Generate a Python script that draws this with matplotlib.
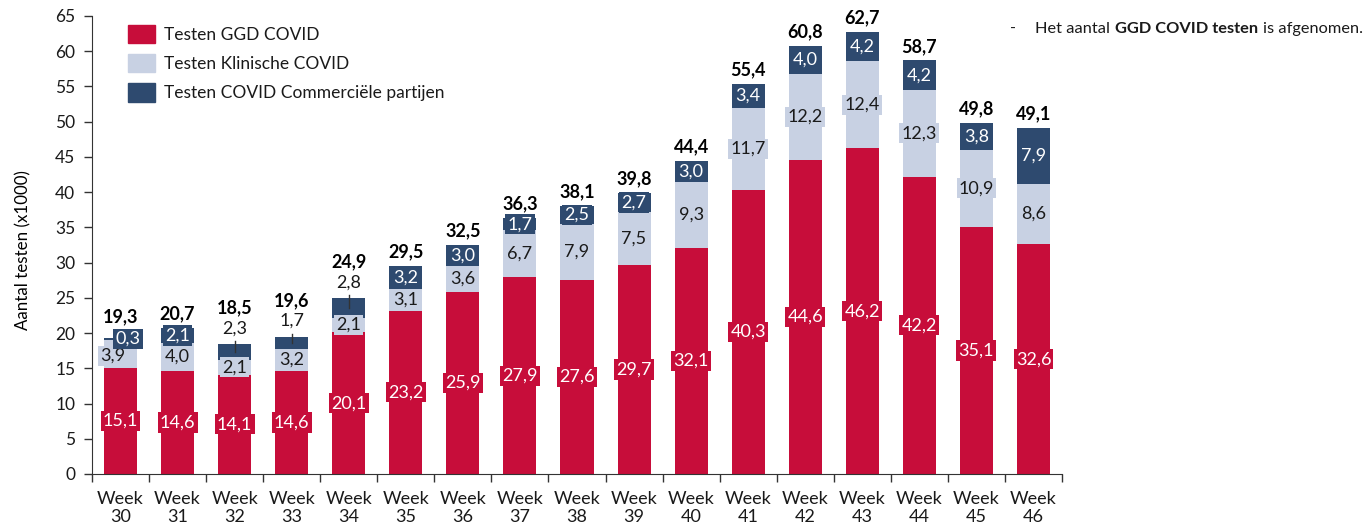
import matplotlib
matplotlib.use("Agg")
import matplotlib.pyplot as plt
import numpy as np
from matplotlib.patches import Patch
from matplotlib.ticker import FixedLocator

# ---------------- data ----------------
weeks = list(range(30, 47))
ggd = [15.1, 14.6, 14.1, 14.6, 20.1, 23.2, 25.9, 27.9, 27.6, 29.7, 32.1, 40.3, 44.6, 46.2, 42.2, 35.1, 32.6]
klinisch = [3.9, 4.0, 2.1, 3.2, 2.1, 3.1, 3.6, 6.7, 7.9, 7.5, 9.3, 11.7, 12.2, 12.4, 12.3, 10.9, 8.6]
commercieel = [0.3, 2.1, 2.3, 1.7, 2.8, 3.2, 3.0, 1.7, 2.5, 2.7, 3.0, 3.4, 4.0, 4.2, 4.2, 3.8, 7.9]
totaal = [19.3, 20.7, 18.5, 19.6, 24.9, 29.5, 32.5, 36.3, 38.1, 39.8, 44.4, 55.4, 60.8, 62.7, 58.7, 49.8, 49.1]
week_labels = [f"Week\n{w}" for w in weeks]
series_names = ["Testen GGD COVID", "Testen Klinische COVID", "Testen COVID Commerciële partijen"]

# ---------------- style ----------------
RED = "#C70D3A"
LIGHT = "#C8D1E3"
DARK = "#2E4A6F"
TXT = "#1a1a1a"
FONT = ["Lato", "DejaVu Sans"]
FS = 13

plt.rcParams["font.family"] = FONT
plt.rcParams["text.color"] = TXT


def nl(v):
    return f"{v:.1f}".replace(".", ",")


fig = plt.figure(figsize=(13.66, 5.30), dpi=100)
ax = fig.add_axes([92 / 1366, 1 - 474 / 530, 970 / 1366, 458 / 530])

x = np.arange(len(weeks))
ggd_a = np.array(ggd)
kl_a = np.array(klinisch)
co_a = np.array(commercieel)
w = 0.58

ax.bar(x, ggd_a, w, color=RED)
ax.bar(x, kl_a, w, bottom=ggd_a, color=LIGHT)
ax.bar(x, co_a, w, bottom=ggd_a + kl_a, color=DARK)

box = "square,pad=0.12"
# segment labels
outside = {32, 33, 34}  # dark value drawn above the bar
for i, wk in enumerate(weeks):
    top = ggd_a[i] + kl_a[i] + co_a[i]
    # week 30: the two small labels are pushed apart sideways
    dx = 0.13 if wk == 30 else 0
    ax.text(x[i], ggd_a[i] / 2, nl(ggd[i]), ha="center", va="center", color="white",
            fontsize=FS, bbox=dict(boxstyle=box, fc=RED, ec="none"))
    ax.text(x[i] - dx, ggd_a[i] + kl_a[i] / 2 - dx * 2, nl(klinisch[i]), ha="center", va="center",
            color=TXT, fontsize=FS, bbox=dict(boxstyle=box, fc=LIGHT, ec="none"))
    dmid = ggd_a[i] + kl_a[i] + co_a[i] / 2
    if wk in outside:
        ax.plot([x[i], x[i]], [dmid, top + 0.4], color="#333333", lw=1)
        ax.text(x[i], top + 2.2, nl(commercieel[i]), ha="center", va="center", color=TXT, fontsize=FS)
        ty = top + 5.1
    else:
        ax.text(x[i] + dx, dmid, nl(commercieel[i]), ha="center", va="center", color="white",
                fontsize=FS, bbox=dict(boxstyle=box, fc=DARK, ec="none"))
        ty = top + (3.0 if wk == 30 else 2.0)
    ax.text(x[i], ty, nl(totaal[i]), ha="center", va="center", color="black",
            fontsize=FS, fontweight="bold")

# axes
ax.set_xlim(-0.5, len(weeks) - 0.5)
ax.set_ylim(0, 65)
ax.set_yticks(np.arange(0, 66, 5))
ax.set_xticks(x)
ax.set_xticklabels(week_labels, fontsize=13, linespacing=1.15)
ax.xaxis.set_minor_locator(FixedLocator(np.arange(-0.5, len(weeks), 1.0)))
ax.tick_params(axis="x", which="major", length=0, pad=12, colors=TXT)
ax.tick_params(axis="x", which="minor", length=6, width=1, color="#333333")
ax.tick_params(axis="y", length=6, width=1, pad=6, labelsize=12.5, color="#333333", labelcolor=TXT)
for s in ["top", "right"]:
    ax.spines[s].set_visible(False)
for s in ["left", "bottom"]:
    ax.spines[s].set_color("#333333")
ax.set_ylabel("Aantal testen (x1000)", fontsize=12.2)
ax.yaxis.set_label_coords(-0.062, 0.49)

# legend
handles = [Patch(color=c) for c in (RED, LIGHT, DARK)]
fig.legend(handles, series_names, loc="upper left", bbox_to_anchor=(128 / 1366, 1 - 25 / 530),
           frameon=False, fontsize=12.5, handlelength=1.55, handleheight=1.25, labelspacing=0.62,
           handletextpad=0.5, borderpad=0, borderaxespad=0)

# note on the right
ty = 1 - 36 / 530
fig.text(1010 / 1366, ty, "-", fontsize=11.8, va="bottom", ha="left")
t1 = fig.text(1035 / 1366, ty, "Het aantal", fontsize=11.8, va="bottom", ha="left")
t2 = ax.annotate("GGD COVID testen", xy=(1, 0), xycoords=t1, xytext=(3.5, 0), textcoords="offset points",
                 fontsize=11.8, fontweight="bold", va="bottom", ha="left")
ax.annotate("is afgenomen.", xy=(1, 0), xycoords=t2, xytext=(3.5, 0), textcoords="offset points",
            fontsize=11.8, va="bottom", ha="left")

fig.savefig("out.png", dpi=100)
